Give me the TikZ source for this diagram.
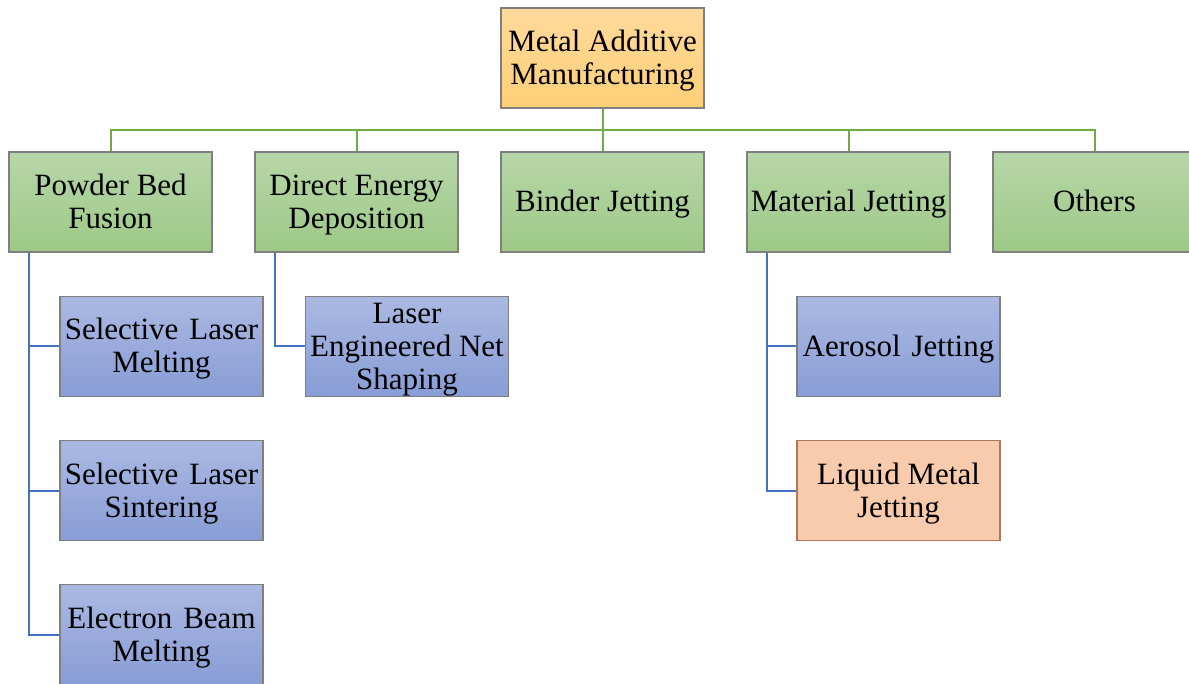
\documentclass[tikz,border=0pt]{standalone}
\usepackage{fontspec}
\setmainfont{Liberation Serif}
\definecolor{gline}{HTML}{70AD47}
\definecolor{bline}{HTML}{4472C4}
\definecolor{bord}{HTML}{7F7F7F}
\newcommand\tstr{\rule{0pt}{27pt}}
\newcommand\bstr{\rule[-7pt]{0pt}{0pt}}
\begin{document}
\begin{tikzpicture}[x=1pt,y=-1pt,
  box/.style={draw=bord, line width=1.1pt, minimum width=203pt, minimum height=100pt,
    inner sep=0pt, align=center,
    font=\fontsize{31}{33}\selectfont},
  greenbox/.style={box, top color={rgb,255:red,183;green,214;blue,168}, bottom color={rgb,255:red,157;green,201;blue,134}},
  bluebox/.style={box, top color={rgb,255:red,171;green,185;blue,226}, bottom color={rgb,255:red,136;green,157;blue,214}},
  peachbox/.style={box, draw={rgb,255:red,175;green,120;blue,90}, fill={rgb,255:red,248;green,203;blue,173}},
  gconn/.style={draw=gline, line width=2pt},
  bconn/.style={draw=bline, line width=2pt}]
\useasboundingbox (0,0) rectangle (1189,684);
\node[box, top color={rgb,255:red,255;green,218;blue,156}, bottom color={rgb,255:red,255;green,207;blue,118}] (mam) at (602.5,58) {\tstr Metal Additive\\Manufacturing\bstr};
\node[greenbox] (pbf) at (110.5,202) {\tstr Powder Bed\\Fusion\bstr};
\node[greenbox] (ded) at (356.5,202) {\tstr Direct Energy\\Deposition\bstr};
\node[greenbox] (bj) at (602.5,202) {\tstr Binder Jetting\bstr};
\node[greenbox] (mj) at (848.5,202) {\tstr Material Jetting\bstr};
\node[greenbox] (oth) at (1094.5,202) {\tstr Others\bstr};
\node[bluebox] (slm) at (161.5,346.5) {\tstr Selective\hspace{0.35em}Laser\\Melting\bstr};
\node[bluebox] (sls) at (161.5,490.5) {\tstr Selective\hspace{0.35em}Laser\\Sintering\bstr};
\node[bluebox] (ebm) at (161.5,634.5) {\tstr Electron\hspace{0.35em}Beam\\Melting\bstr};
\node[bluebox] (lens) at (407,346.5) {\tstr Laser\\Engineered Net\\Shaping\bstr};
\node[bluebox] (aj) at (898.5,346.5) {\tstr Aerosol\hspace{0.35em}Jetting\bstr};
\node[peachbox] (lmj) at (898.5,490.5) {\tstr Liquid Metal\\Jetting\bstr};
\coordinate (hub) at (602.5,130);
\draw[gconn] (mam.south) -- (hub);
\draw[gconn] (hub) -| (pbf.north);
\draw[gconn] (hub) -| (ded.north);
\draw[gconn] (hub) -- (bj.north);
\draw[gconn] (hub) -| (mj.north);
\draw[gconn] (hub) -| (oth.north);
\draw[bconn] ([xshift=21pt]pbf.south west) |- (slm.west);
\draw[bconn] ([xshift=21pt]pbf.south west) |- (sls.west);
\draw[bconn] ([xshift=21pt]pbf.south west) |- (ebm.west);
\draw[bconn] ([xshift=21pt]ded.south west) |- (lens.west);
\draw[bconn] ([xshift=21pt]mj.south west) |- (aj.west);
\draw[bconn] ([xshift=21pt]mj.south west) |- (lmj.west);
\end{tikzpicture}
\end{document}
